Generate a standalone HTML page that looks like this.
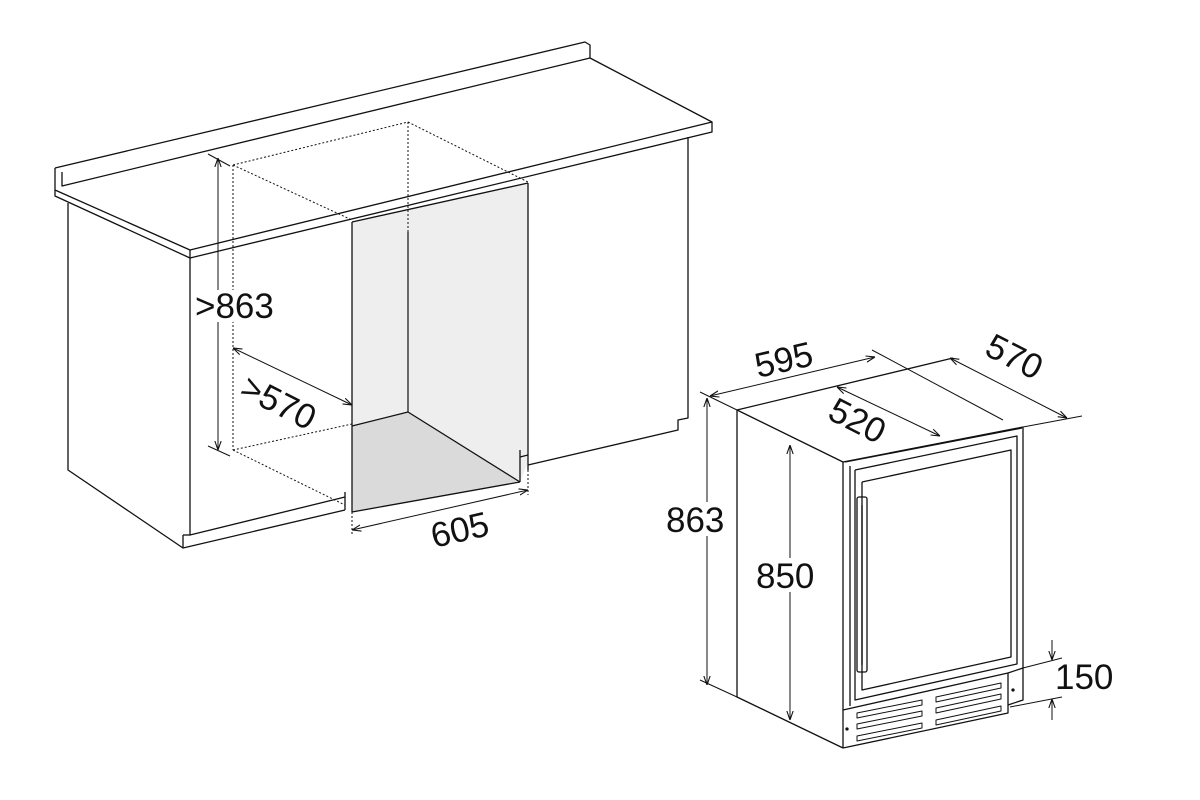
<!DOCTYPE html>
<html><head><meta charset="utf-8"><style>
html,body{margin:0;padding:0;background:#fff}
svg{display:block}
text{font-family:"Liberation Sans",sans-serif;fill:#111}
</style></head><body>
<svg width="1200" height="800" viewBox="0 0 1200 800" xmlns="http://www.w3.org/2000/svg">
<defs>
<marker id="a" viewBox="0 0 10 10" refX="10" refY="5" markerWidth="9" markerHeight="9" orient="auto-start-reverse" markerUnits="userSpaceOnUse"><path d="M0,1.5 L10,5 L0,8.5" fill="none" stroke="#111" stroke-width="1.2"/></marker>
</defs>
<g fill="none" stroke="#111" stroke-width="1.3" stroke-linejoin="round">
<polygon points="352,222 528,183 528,462 520,482 352,512" fill="#eeeeee" stroke="none"/>
<polygon points="352,426 408,412 520,482 352,512" fill="#dadada" stroke="none"/>
<polyline points="55,168 585,42 590,45 590,58 62,186 62,172"/>
<polyline points="55,168 55,190 190,250 712,122 590,58"/>
<polyline points="55,190 55,196 190,258 712,132 712,122"/>
<line x1="190" y1="250" x2="190" y2="258"/>
<polyline points="68,203 68,470 183,548 345,510"/>
<polyline points="190,258 190,535 345,497"/>
<polyline points="183,535 183,548"/>
<line x1="190" y1="535" x2="183" y2="535"/>
<line x1="345" y1="492" x2="345" y2="510"/>
<polyline points="688,137 688,418 678,420 678,430 528,465"/>
<line x1="528" y1="455" x2="520" y2="457"/><line x1="520" y1="450" x2="520" y2="482"/>
<polyline points="352,222 352,512 520,482"/>
<line x1="352" y1="222" x2="528" y2="183"/>
<line x1="528" y1="183" x2="528" y2="470"/>
<polyline points="352,426 408,412 520,482"/>
<line x1="408" y1="122" x2="408" y2="412" stroke-dasharray="2,2" stroke-width="1"/>
<line x1="408" y1="232" x2="408" y2="412" stroke-width="1.2"/>
<g stroke-dasharray="2,2" stroke-width="1">
<line x1="233" y1="165" x2="408" y2="122"/>
<line x1="233" y1="165" x2="233" y2="450"/>
<line x1="233" y1="165" x2="352" y2="220"/>
<line x1="408" y1="122" x2="528" y2="182"/>
<line x1="233" y1="450" x2="352" y2="424"/>
<line x1="233" y1="450" x2="345" y2="505"/>
<line x1="352" y1="512" x2="352" y2="535"/>
<line x1="528" y1="470" x2="528" y2="495"/>
</g>
<line x1="218" y1="158" x2="218" y2="450" marker-start="url(#a)" marker-end="url(#a)" stroke-width="1"/>
<line x1="208" y1="154" x2="230" y2="166" stroke-width="1"/>
<line x1="208" y1="446" x2="230" y2="456" stroke-width="1"/>
<line x1="233" y1="348" x2="352" y2="405" marker-start="url(#a)" marker-end="url(#a)" stroke-width="1"/>
<line x1="352" y1="530" x2="528" y2="490" marker-start="url(#a)" marker-end="url(#a)" stroke-width="1"/>
<polyline points="737,410 843,462 1023,427"/>
<polyline points="737,410 953,358"/>
<polyline points="737,410 737,697 843,748"/>
<line x1="1023" y1="427" x2="1023" y2="668"/>
<line x1="843" y1="462" x2="843" y2="748"/>
<polyline points="850,466 850,706"/>
<polyline points="855,470 1017,436 1017,664 855,700 855,470"/>
<polyline points="862,482 1011,450 1011,657 862,690 862,482"/>
<polyline points="845,462 1022,428" />
<rect x="857" y="497" width="10" height="175" rx="2"/>
<line x1="862" y1="505" x2="862" y2="665"/>
<polyline points="843,710 1008,673 1008,713 843,748"/>
<polyline points="1008,673 1023,668 1023,700 1008,705"/>
<g stroke-width="1">
<polygon points="857,713 922,700 922,705 857,718"/>
<polygon points="857,724 922,711 922,716 857,729"/>
<polygon points="857,736 922,723 922,728 857,741"/>
<polygon points="936,697 1001,683 1001,688 936,702"/>
<polygon points="936,708 1001,694 1001,699 936,713"/>
<polygon points="936,720 1001,706 1001,711 936,725"/>
</g>
<circle cx="847" cy="729" r="1" fill="#111"/>
<circle cx="1013" cy="690" r="1" fill="#111"/>
<g stroke-width="1">
<line x1="707" y1="398" x2="707" y2="685" marker-start="url(#a)" marker-end="url(#a)"/>
<line x1="700" y1="392" x2="737" y2="410"/>
<line x1="700" y1="680" x2="737" y2="697"/>
<line x1="790" y1="445" x2="790" y2="720" marker-start="url(#a)" marker-end="url(#a)"/>
<line x1="710" y1="396" x2="875" y2="357" marker-start="url(#a)" marker-end="url(#a)"/>
<line x1="872" y1="350" x2="1003" y2="420"/>
<line x1="950" y1="358" x2="1067" y2="418" marker-start="url(#a)" marker-end="url(#a)"/>
<line x1="1023" y1="427" x2="1082" y2="416"/>
<line x1="837" y1="387" x2="940" y2="436" marker-start="url(#a)" marker-end="url(#a)"/>
<line x1="1023" y1="668" x2="1062" y2="658"/>
<line x1="1010" y1="707" x2="1062" y2="697"/>
<line x1="1052" y1="640" x2="1052" y2="660" marker-end="url(#a)"/>
<line x1="1052" y1="720" x2="1052" y2="699" marker-end="url(#a)"/>
</g>
</g>
<rect x="196" y="290" width="86" height="32" fill="#fff"/>
<rect x="666" y="502" width="64" height="34" fill="#fff"/>
<rect x="755" y="558" width="66" height="34" fill="#fff"/>
<text x="195" y="318" font-size="35">&gt;863</text>
<text x="0" y="0" font-size="35" transform="translate(238,395) rotate(27)">&gt;570</text>
<text x="0" y="0" font-size="35" transform="translate(434,548) rotate(-13)">605</text>
<text x="0" y="0" font-size="35" transform="translate(758,378) rotate(-13)">595</text>
<text x="0" y="0" font-size="35" transform="translate(983,354) rotate(27)">570</text>
<text x="0" y="0" font-size="35" transform="translate(826,418) rotate(27)">520</text>
<text x="666" y="532" font-size="35">863</text>
<text x="756" y="588" font-size="35">850</text>
<text x="1055" y="689" font-size="35">150</text>
</svg>
</body></html>
